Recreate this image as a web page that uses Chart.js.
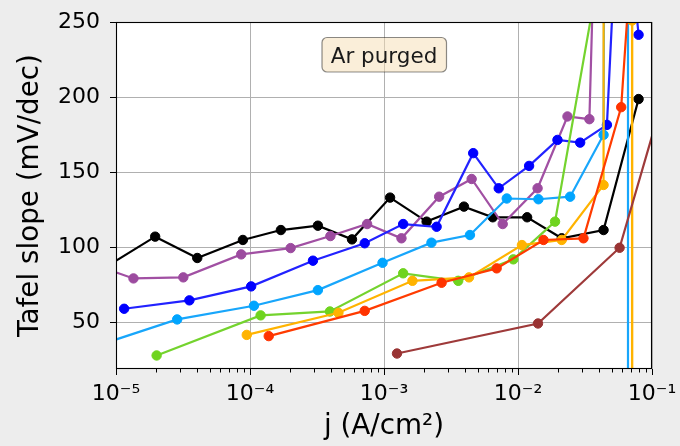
<!DOCTYPE html>
<html>
<head>
<meta charset="utf-8">
<script src="https://cdn.jsdelivr.net/npm/chart.js@4.4.1/dist/chart.umd.min.js"></script>
<style>
  html, body { margin: 0; padding: 0; background: #ededed; }
  canvas { display: block; }
</style>
</head>
<body>
<canvas id="tafel" width="680" height="446"></canvas>
<script>
// current density j (A/cm2) and Tafel slope (mV/dec) per curve
const blackJ  = [8e-6, 1.96e-5, 4.04e-5, 8.85e-5, 1.70e-4, 3.21e-4, 5.77e-4, 1.11e-3, 2.08e-3, 3.95e-3, 6.48e-3, 1.17e-2, 2.12e-2, 4.35e-2, 7.94e-2];
const blackB  = [85.7, 107.1, 92.9, 104.9, 111.5, 114.4, 105.3, 133.1, 117.1, 127.1, 120.0, 120.0, 106.0, 111.5, 198.7];

const purpleJ = [8e-6, 1.35e-5, 3.18e-5, 8.6e-5, 2.01e-4, 3.98e-4, 7.48e-4, 1.35e-3, 2.58e-3, 4.51e-3, 7.69e-3, 1.40e-2, 2.34e-2, 3.41e-2, 4.5e-2];
const purpleB = [86.3, 79.3, 80.0, 95.3, 99.5, 107.5, 115.5, 106.0, 133.7, 145.5, 115.5, 139.3, 187.1, 185.3, 570];

const blueJ   = [1.15e-5, 3.53e-5, 1.02e-4, 2.95e-4, 7.18e-4, 1.39e-3, 2.47e-3, 4.63e-3, 7.18e-3, 1.21e-2, 1.97e-2, 2.91e-2, 4.61e-2, 5.8e-2, 7.94e-2];
const blueB   = [59.1, 64.7, 74.0, 91.1, 102.7, 115.5, 113.7, 162.7, 139.3, 154.2, 171.5, 169.7, 181.5, 367, 241.5];

const skyJ    = [8e-6, 2.86e-5, 1.07e-4, 3.21e-4, 9.75e-4, 2.26e-3, 4.38e-3, 8.24e-3, 1.42e-2, 2.45e-2, 4.35e-2, 6.62e-2, 6.62e-2];
const skyB    = [35.8, 52.0, 61.1, 71.5, 89.7, 103.1, 108.2, 132.5, 132.0, 133.7, 174.9, 5000, -5000];

const greenJ  = [2.01e-5, 1.20e-4, 3.95e-4, 1.39e-3, 3.58e-3, 9.23e-3, 1.89e-2, 4.0e-2];
const greenB  = [28.0, 54.7, 57.3, 82.7, 77.7, 92.0, 117.1, 282];

const orangeJ = [9.46e-5, 4.57e-4, 1.63e-3, 4.31e-3, 1.07e-2, 2.12e-2, 4.35e-2, 4.55e-2, 7.10e-2, 7.12e-2];
const orangeB = [41.7, 56.4, 77.7, 80.0, 101.5, 104.9, 141.5, 5000, 251, -5000];

const redJ    = [1.38e-4, 7.18e-4, 2.69e-3, 6.93e-3, 1.55e-2, 3.08e-2, 5.89e-2, 7.13e-2];
const redB    = [40.9, 57.7, 76.4, 86.0, 104.9, 106.0, 193.3, 303];

const brownJ  = [1.25e-3, 1.41e-2, 5.73e-2, 0.15];
const brownB  = [29.3, 49.3, 99.7, 228];

const xTickValues = [1e-5, 1e-4, 1e-3, 1e-2, 1e-1];
const xTickLabels = ['10⁻⁵', '10⁻⁴', '10⁻³', '10⁻²', '10⁻¹'];
const yTickValues = [50, 100, 150, 200, 250];
const minorDecades = [1e-5, 1e-4, 1e-3, 1e-2];
const minorSteps = [2, 3, 4, 5, 6, 7, 8, 9];

const curves = [
  [blackJ, blackB], [purpleJ, purpleB], [blueJ, blueB], [skyJ, skyB],
  [greenJ, greenB], [orangeJ, orangeB], [redJ, redB], [brownJ, brownB]
];
const lineColors  = ['#000000', '#a150a3', '#2222ff', '#18a6fb', '#74d32e', '#ffb300', '#ff3b00', '#9e3a3a'];
const pointColors = ['#000000', '#9c4b9f', '#0000ff', '#00a5ff', '#6fd41f', '#ffb300', '#ff3300', '#993333'];

const FONT = 'DejaVu Sans';

const datasets = curves.map(([j, b], i) => ({
  data: j.map((v, k) => ({ x: v, y: b[k] })),
  borderColor: lineColors[i],
  backgroundColor: pointColors[i],
  pointBackgroundColor: pointColors[i],
  pointBorderColor: pointColors[i],
  borderWidth: 2.2,
  pointRadius: 4.7,
  pointBorderWidth: 1,
  tension: 0,
  clip: 0,
  order: curves.length - i
}));

// white axes face, minor ticks, frame and the annotation box
const axesDeco = {
  id: 'axesDeco',
  beforeDraw(chart) {
    const { ctx, chartArea: a } = chart;
    ctx.save();
    ctx.fillStyle = '#ffffff';
    ctx.fillRect(a.left, a.top, a.right - a.left, a.bottom - a.top);
    ctx.restore();
  },
  afterDraw(chart) {
    const { ctx, chartArea: a } = chart;
    const xs = chart.scales.x;
    ctx.save();
    ctx.strokeStyle = '#000';
    ctx.lineWidth = 1;
    ctx.beginPath();
    minorDecades.forEach(d => minorSteps.forEach(m => {
      const px = Math.round(xs.getPixelForValue(m * d)) + 0.5;
      ctx.moveTo(px, a.bottom);
      ctx.lineTo(px, a.bottom + 3.5);
    }));
    ctx.stroke();

    ctx.lineWidth = 1.1;
    ctx.strokeRect(a.left + 0.5, a.top + 0.5, a.right - a.left - 1, a.bottom - a.top - 1);

    // "Ar purged" box
    const cx = (a.left + a.right) / 2;
    const bx = cx - 62, by = a.top + 15.5, bw = 124.5, bh = 34.5, r = 5;
    ctx.beginPath();
    ctx.moveTo(bx + r, by);
    ctx.arcTo(bx + bw, by, bx + bw, by + bh, r);
    ctx.arcTo(bx + bw, by + bh, bx, by + bh, r);
    ctx.arcTo(bx, by + bh, bx, by, r);
    ctx.arcTo(bx, by, bx + bw, by, r);
    ctx.closePath();
    ctx.fillStyle = 'rgba(245,222,179,0.5)';
    ctx.fill();
    ctx.strokeStyle = 'rgba(0,0,0,0.45)';
    ctx.lineWidth = 1.2;
    ctx.stroke();
    ctx.fillStyle = '#1a1a1a';
    ctx.font = '21.5px "' + FONT + '"';
    ctx.textAlign = 'center';
    ctx.textBaseline = 'alphabetic';
    ctx.fillText('Ar purged', cx, a.top + 41);
    ctx.restore();
  }
};

new Chart(document.getElementById('tafel').getContext('2d'), {
  type: 'line',
  data: { datasets },
  options: {
    responsive: false,
    animation: false,
    events: [],
    layout: { padding: { left: 0, right: 28, top: 22, bottom: 0 } },
    plugins: { legend: { display: false }, tooltip: { enabled: false } },
    scales: {
      x: {
        type: 'logarithmic',
        min: 1e-5,
        max: 1e-1,
        afterBuildTicks: s => { s.ticks = xTickValues.map(v => ({ value: v })); },
        afterFit: s => { s.height = 77; s.paddingLeft = 0; s.paddingRight = 0; },
        ticks: {
          autoSkip: false,
          maxRotation: 0,
          padding: 6,
          color: '#000',
          font: { family: FONT, size: 22 },
          callback: (v, i) => xTickLabels[i]
        },
        grid: { color: '#b0b0b0', lineWidth: 1, tickColor: '#000', tickLength: 6, tickWidth: 1 },
        border: { display: false },
        title: {
          display: true,
          text: 'j (A/cm²)',
          color: '#000',
          font: { family: FONT, size: 27.8 },
          padding: { top: 0, bottom: 3 }
        }
      },
      y: {
        type: 'linear',
        min: 19,
        max: 250,
        afterBuildTicks: s => { s.ticks = yTickValues.map(v => ({ value: v })); },
        afterFit: s => { s.width = 116; s.paddingTop = 0; s.paddingBottom = 0; },
        ticks: {
          padding: 10,
          color: '#000',
          font: { family: FONT, size: 22 }
        },
        grid: { color: '#b0b0b0', lineWidth: 1, tickColor: '#000', tickLength: 6, tickWidth: 1 },
        border: { display: false },
        title: {
          display: true,
          text: 'Tafel slope (mV/dec)',
          color: '#000',
          font: { family: FONT, size: 27.8 },
          padding: { top: 14, bottom: 0 }
        }
      }
    }
  },
  plugins: [axesDeco]
});
</script>
</body>
</html>
